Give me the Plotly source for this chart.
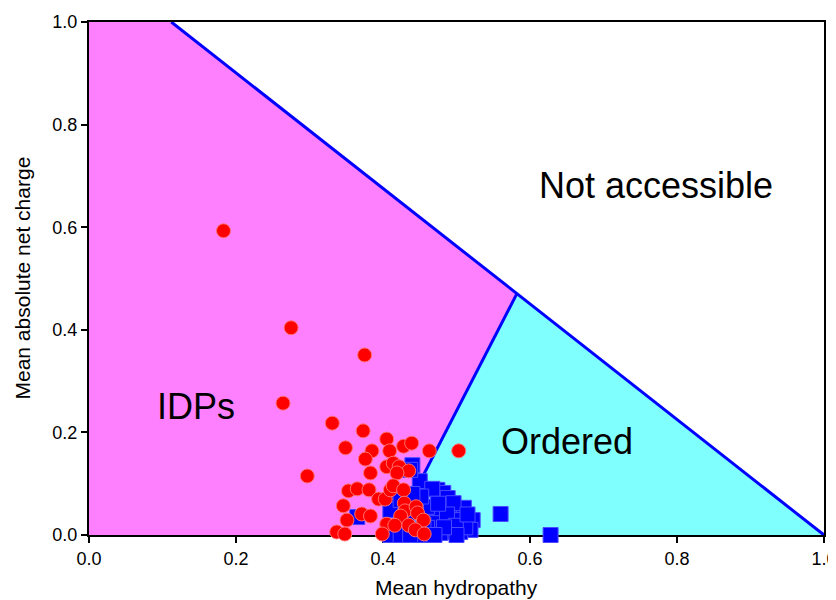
import plotly.graph_objects as go

# Region boundaries (mean hydropathy, mean absolute net charge)
idp_region_x = [0.0, 0.0, 0.112, 0.582, 0.413, 0.0]
idp_region_y = [0.0, 1.0, 1.0, 0.470, 0.0, 0.0]
ordered_region_x = [0.413, 0.582, 1.0, 0.413]
ordered_region_y = [0.0, 0.470, 0.0, 0.0]
limit_line_x = [0.112, 1.0]
limit_line_y = [1.0, 0.0]
boundary_line_x = [0.413, 0.582]
boundary_line_y = [0.0, 0.470]

# Ordered proteins (blue squares)
ordered_x = [0.440, 0.450, 0.474, 0.482, 0.488, 0.492, 0.510, 0.522, 0.519, 0.505,
             0.492, 0.478, 0.469, 0.478, 0.460, 0.365, 0.410, 0.424, 0.437, 0.414,
             0.410, 0.492, 0.505, 0.512, 0.469, 0.460, 0.451, 0.437, 0.424, 0.467,
             0.496, 0.560, 0.628, 0.487, 0.499, 0.475, 0.455, 0.445, 0.432, 0.500,
             0.515, 0.483, 0.452, 0.440, 0.470]
ordered_y = [0.136, 0.105, 0.088, 0.082, 0.072, 0.053, 0.053, 0.029, 0.010, 0.006,
             0.006, 0.004, 0.049, 0.035, 0.055, 0.035, 0.000, 0.000, 0.127, 0.068,
             0.049, 0.029, 0.029, 0.015, 0.023, 0.014, 0.000, 0.000, 0.068, 0.090,
             0.062, 0.041, 0.000, 0.040, 0.018, 0.061, 0.020, 0.045, 0.030, 0.000,
             0.040, 0.015, 0.075, 0.080, 0.000]

# IDPs (red circles)
idp_x = [0.183, 0.275, 0.375, 0.264, 0.331, 0.503, 0.297, 0.349, 0.373, 0.405,
         0.385, 0.376, 0.409, 0.428, 0.439, 0.463, 0.383, 0.405, 0.414, 0.422,
         0.435, 0.419, 0.353, 0.365, 0.381, 0.394, 0.403, 0.410, 0.414, 0.428,
         0.346, 0.371, 0.383, 0.351, 0.337, 0.348, 0.429, 0.430, 0.445, 0.447,
         0.455, 0.424, 0.405, 0.416, 0.435, 0.444, 0.399, 0.456]
idp_y = [0.593, 0.404, 0.351, 0.257, 0.218, 0.164, 0.115, 0.170, 0.203, 0.187,
         0.164, 0.148, 0.164, 0.173, 0.179, 0.164, 0.121, 0.133, 0.140, 0.133,
         0.125, 0.121, 0.086, 0.090, 0.088, 0.070, 0.070, 0.088, 0.096, 0.088,
         0.057, 0.041, 0.037, 0.029, 0.006, 0.002, 0.062, 0.047, 0.055, 0.043,
         0.029, 0.037, 0.021, 0.019, 0.019, 0.010, 0.002, 0.002]

region_labels = ["Not accessible", "Ordered", "IDPs"]
label_x = [0.771, 0.650, 0.146]
label_y = [0.682, 0.183, 0.251]

tick_vals = [0.0, 0.2, 0.4, 0.6, 0.8, 1.0]
tick_text = ["0.0", "0.2", "0.4", "0.6", "0.8", "1.0"]

x_title = "Mean hydropathy"
y_title = "Mean absolute net charge"

FONT = "Liberation Sans, Arial, Helvetica"

fig = go.Figure()
fig.add_trace(go.Scatter(x=idp_region_x, y=idp_region_y, mode="lines", fill="toself",
                         fillcolor="#FF80FF", line=dict(width=0), hoverinfo="skip"))
fig.add_trace(go.Scatter(x=ordered_region_x, y=ordered_region_y, mode="lines", fill="toself",
                         fillcolor="#80FFFF", line=dict(width=0), hoverinfo="skip"))
fig.add_trace(go.Scatter(x=limit_line_x, y=limit_line_y, mode="lines",
                         line=dict(color="#0000FF", width=3), cliponaxis=False))
fig.add_trace(go.Scatter(x=boundary_line_x, y=boundary_line_y, mode="lines",
                         line=dict(color="#0000FF", width=3)))
fig.add_trace(go.Scatter(x=ordered_x, y=ordered_y, mode="markers", cliponaxis=False,
                         marker=dict(symbol="square", size=15, color="#0000FF",
                                     line=dict(color="#4A4AFF", width=1))))
fig.add_trace(go.Scatter(x=idp_x, y=idp_y, mode="markers", cliponaxis=False,
                         marker=dict(symbol="circle", size=14, color="#FF0000",
                                     line=dict(color="#FF7070", width=1))))

for t, lx, ly in zip(region_labels, label_x, label_y):
    fig.add_annotation(x=lx, y=ly, text=t, showarrow=False,
                       font=dict(size=36, color="black", family=FONT))

fig.add_annotation(x=0.5, y=0, xref="paper", yref="paper", text=x_title,
                   showarrow=False, xanchor="center", yanchor="top", yshift=-39,
                   font=dict(size=21, color="black", family=FONT))
fig.add_annotation(x=0, y=0.5, xref="paper", yref="paper", text=y_title,
                   showarrow=False, textangle=-90, xanchor="center", yanchor="middle",
                   xshift=-67, font=dict(size=21, color="black", family=FONT))

axis_common = dict(range=[0, 1], tickvals=tick_vals, ticktext=tick_text,
                   showgrid=False, zeroline=False, showline=True, linecolor="black",
                   linewidth=2, mirror=True, ticks="outside", ticklen=6, tickwidth=2,
                   tickcolor="black", layer="below traces", automargin=False,
                   ticklabeloverflow="allow",
                   tickfont=dict(size=18, color="black", family=FONT))

# The page body adds an 8 px offset; the figure is sized to fit the 836x600 window.
fig.update_layout(
    width=828, height=592,
    margin=dict(l=81, r=12, t=14, b=65),
    plot_bgcolor="white", paper_bgcolor="white",
    showlegend=False,
    xaxis=axis_common,
    yaxis=axis_common,
)

fig.write_html("out.html")
